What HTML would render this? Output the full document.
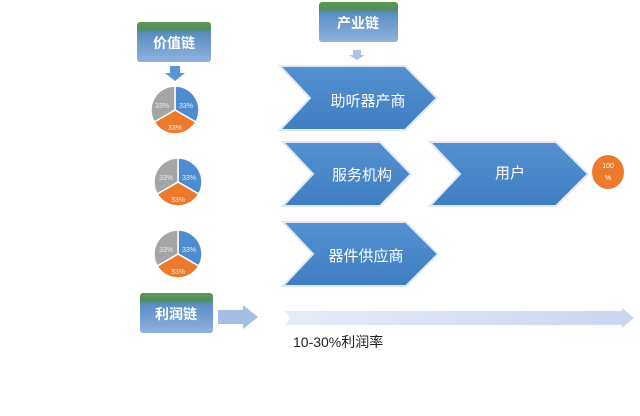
<!DOCTYPE html>
<html><head><meta charset="utf-8"><style>
html,body{margin:0;padding:0;background:#fff;width:640px;height:416px;overflow:hidden}
svg{display:block}
text{font-family:"Liberation Sans","Noto Sans CJK SC",sans-serif}
</style></head><body>
<svg width="640" height="416" viewBox="0 0 640 416" xmlns="http://www.w3.org/2000/svg">
<defs>
<linearGradient id="box" x1="0" y1="0" x2="0" y2="1">
<stop offset="0" stop-color="#5f9a4a"/><stop offset="0.18" stop-color="#4f8d6a"/><stop offset="0.3" stop-color="#5b8fc6"/><stop offset="1" stop-color="#8fb2dc"/>
</linearGradient>
<linearGradient id="chev" x1="0" y1="0" x2="0" y2="1">
<stop offset="0" stop-color="#5591d0"/><stop offset="1" stop-color="#3f7ec2"/>
</linearGradient>
<linearGradient id="longa" x1="0" y1="0" x2="1" y2="0">
<stop offset="0" stop-color="#e6ecf7"/><stop offset="1" stop-color="#c9d6ee"/>
</linearGradient>
</defs>
<!-- header boxes -->
<rect x="137" y="22" width="74" height="40" rx="3" fill="url(#box)"/>
<text x="174" y="48" font-size="14" font-weight="bold" fill="#fff" text-anchor="middle">价值链</text>
<rect x="319" y="2" width="79" height="40" rx="3" fill="url(#box)"/>
<text x="358" y="28" font-size="14" font-weight="bold" fill="#fff" text-anchor="middle">产业链</text>
<rect x="140" y="293" width="73" height="40" rx="3" fill="url(#box)"/>
<text x="176" y="319" font-size="14" font-weight="bold" fill="#fff" text-anchor="middle">利润链</text>
<!-- small arrows -->
<path d="M170 66 H180 V73 H185 L175 81 L165 73 H170Z" fill="#5b95d4"/>
<path d="M353 50 H361 V55 H365 L357 60 L349 55 H353Z" fill="#a9c3e6"/>
<path d="M218 310 H243 V305 L258 317 L243 329 V324 H218Z" fill="#a3bfe3"/>
<path d="M285 311 H622 V308 L634 318 L622 328 V325 H285 L290 318Z" fill="url(#longa)"/>
<!-- chevrons -->
<g stroke="#dfe8f4" stroke-width="2">
<path d="M280 66 H405 L437 98 L405 130 H280 L310 98Z" fill="url(#chev)"/>
<path d="M283 142 H380 L411 174 L380 206 H283 L313 174Z" fill="url(#chev)"/>
<path d="M430 142 H556 L588 174 L556 206 H430 L460 174Z" fill="url(#chev)"/>
<path d="M283 222 H406 L438 254 L406 286 H283 L313 254Z" fill="url(#chev)"/>
</g>
<text x="368" y="106" font-size="15" fill="#fff" text-anchor="middle">助听器产商</text>
<text x="362" y="180" font-size="15" fill="#fff" text-anchor="middle">服务机构</text>
<text x="510" y="178" font-size="15" fill="#fff" text-anchor="middle">用户</text>
<text x="366" y="261" font-size="15" fill="#fff" text-anchor="middle">器件供应商</text>
<!-- 100% -->
<ellipse cx="608" cy="172" rx="16" ry="17" fill="#ec7a2c"/>
<text x="608" y="168" font-size="7" fill="#fff" text-anchor="middle">100</text>
<text x="608" y="180" font-size="7" fill="#fff" text-anchor="middle">%</text>
<!-- pies -->
<g stroke="#fff" stroke-width="1.5" font-size="7" text-anchor="middle">
<path d="M175 110 L175 86 A24 24 0 0 1 195.8 122Z" fill="#4e8cd0"/>
<path d="M175 110 L195.8 122 A24 24 0 0 1 154.2 122Z" fill="#ec7a2c"/>
<path d="M175 110 L154.2 122 A24 24 0 0 1 175 86Z" fill="#a5a5a5"/>
<path d="M178 182 L178 158 A24 24 0 0 1 198.8 194Z" fill="#4e8cd0"/>
<path d="M178 182 L198.8 194 A24 24 0 0 1 157.2 194Z" fill="#ec7a2c"/>
<path d="M178 182 L157.2 194 A24 24 0 0 1 178 158Z" fill="#a5a5a5"/>
<path d="M178 254 L178 230 A24 24 0 0 1 198.8 266Z" fill="#4e8cd0"/>
<path d="M178 254 L198.8 266 A24 24 0 0 1 157.2 266Z" fill="#ec7a2c"/>
<path d="M178 254 L157.2 266 A24 24 0 0 1 178 230Z" fill="#a5a5a5"/>
</g>
<g font-size="7" fill="#e8eef8" text-anchor="middle">
<text x="186" y="108">33%</text><text x="175" y="130">33%</text><text x="162" y="108">33%</text>
<text x="189" y="180">33%</text><text x="178" y="202">33%</text><text x="166" y="180">33%</text>
<text x="189" y="252">33%</text><text x="178" y="274">33%</text><text x="166" y="252">33%</text>
</g>
<text x="293" y="347" font-size="14" fill="#222">10-30%利润率</text>
</svg>
</body></html>
